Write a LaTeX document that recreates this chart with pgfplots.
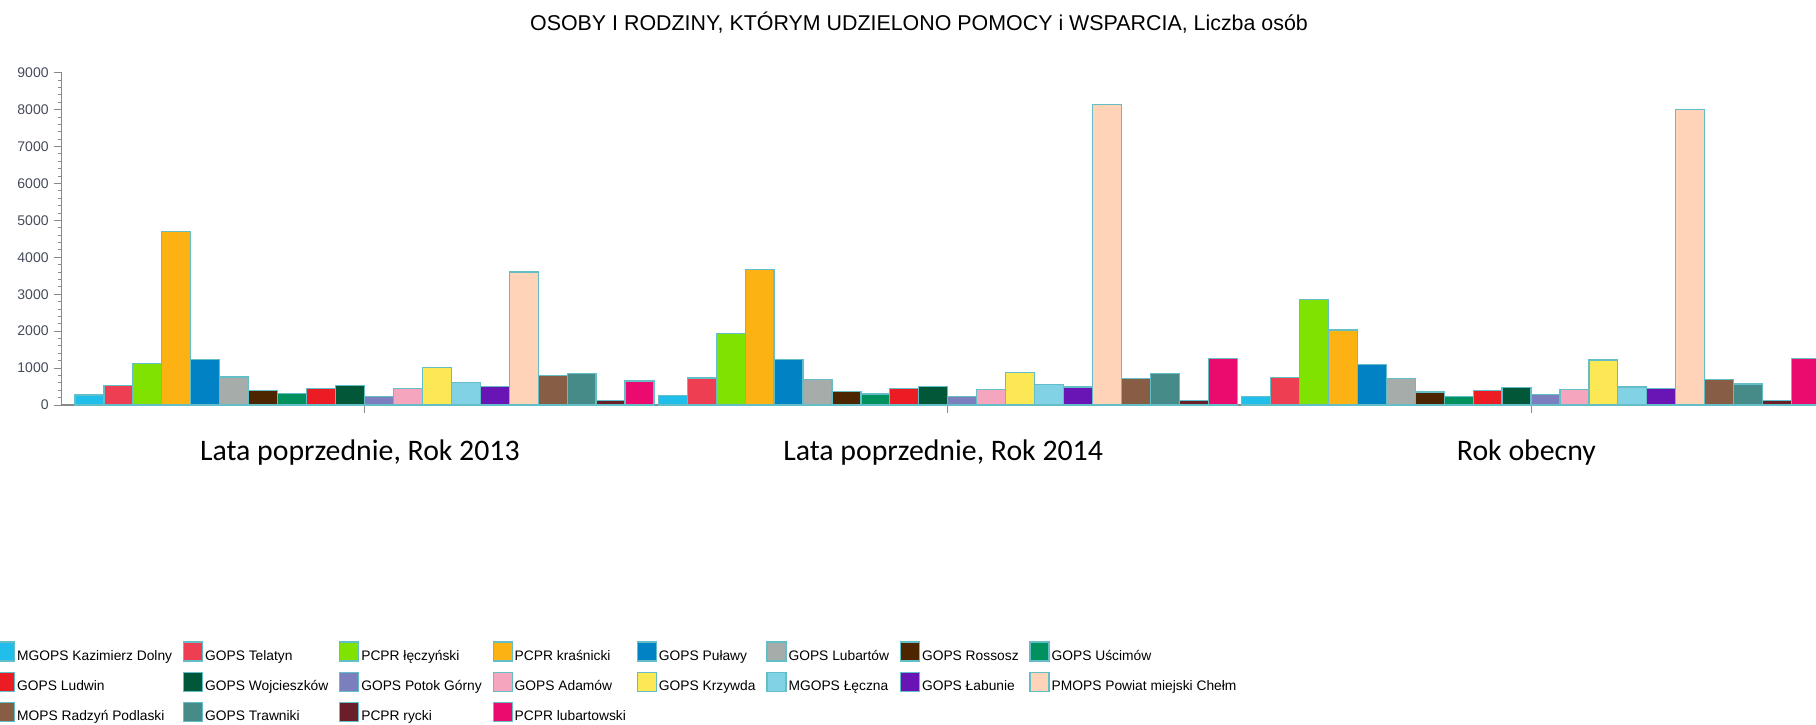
\documentclass[border=0pt]{standalone}
\usepackage{pgfplots}
\pgfplotsset{compat=1.18}
\usepackage{fontspec}
\setmainfont{Liberation Sans}
\newfontfamily\calibri{Carlito}

\definecolor{barEdge}{RGB}{100,190,200}
\definecolor{axisGray}{RGB}{136,136,136}
\definecolor{tickText}{RGB}{70,75,90}
\definecolor{c01}{RGB}{34,190,235}
\definecolor{c02}{RGB}{238,62,82}
\definecolor{c03}{RGB}{128,226,0}
\definecolor{c04}{RGB}{253,178,20}
\definecolor{c05}{RGB}{0,130,196}
\definecolor{c06}{RGB}{165,172,170}
\definecolor{c07}{RGB}{77,38,0}
\definecolor{c08}{RGB}{0,145,95}
\definecolor{c09}{RGB}{236,28,36}
\definecolor{c10}{RGB}{0,88,56}
\definecolor{c11}{RGB}{123,127,190}
\definecolor{c12}{RGB}{245,166,190}
\definecolor{c13}{RGB}{252,232,85}
\definecolor{c14}{RGB}{130,210,230}
\definecolor{c15}{RGB}{105,20,180}
\definecolor{c16}{RGB}{255,211,184}
\definecolor{c17}{RGB}{136,93,70}
\definecolor{c18}{RGB}{70,139,135}
\definecolor{c19}{RGB}{105,30,40}
\definecolor{c20}{RGB}{235,10,110}

\begin{document}
\begin{tikzpicture}
\useasboundingbox (0pt,0pt) rectangle (908pt,362pt);

\node[font=\fontsize{10.7}{12}\selectfont, text=black] at (459.5pt,350.5pt)
  {OSOBY I RODZINY, KTÓRYM UDZIELONO POMOCY i WSPARCIA, Liczba osób};

\begin{axis}[
    at={(31pt,159.5pt)}, anchor=south west,
    scale only axis,
    width=877pt, height=166.15pt,
    xmin=-0.5186, xmax=2.4886,
    ymin=0, ymax=9000,
    ybar=0pt, bar width=14.475pt,
    axis lines*=left,
    axis line style={axisGray, line width=0.5pt},
    x axis line style={line width=1pt},
    tick align=outside,
    major tick length=4pt, minor tick length=2pt,
    tick style={axisGray, line width=0.5pt},
    xtick={0,1,2}, xticklabels={},
    ytick={0,1000,...,9000},
    minor y tick num=4,
    scaled y ticks=false,
    /pgf/number format/assume math mode=true,
    /pgf/number format/1000 sep={},
    yticklabel style={font=\fontsize{7}{8}\selectfont, text=tickText, inner sep=0pt, xshift=-2.5pt},
    every axis plot/.append style={draw=barEdge, line width=0.6pt},
    clip mode=individual,
    legend columns=8,
    legend cell align=left,
    legend style={
        at={(-0.0382,-0.7115)}, anchor=north west,
        draw=none, fill=none, inner sep=0pt, outer sep=0pt,
        font=\fontsize{6.9}{8}\selectfont,
        nodes={inner sep=0pt, text height=5.2pt, text depth=1.6pt},
        row sep=4.25pt,
        /tikz/every odd column/.append style={column sep=1pt},
        /tikz/every even column/.append style={column sep=5.4pt},
    },
    legend image code/.code={\draw[#1] (0pt,-2.25pt) rectangle (9.5pt,7.25pt);},
]

\addplot[fill=c01] coordinates {(0,270) (1,260) (2,230)};
\addlegendentry{MGOPS Kazimierz Dolny}
\addplot[fill=c02] coordinates {(0,530) (1,730) (2,750)};
\addlegendentry{GOPS Telatyn}
\addplot[fill=c03] coordinates {(0,1120) (1,1940) (2,2860)};
\addlegendentry{PCPR łęczyński}
\addplot[fill=c04] coordinates {(0,4690) (1,3680) (2,2030)};
\addlegendentry{PCPR kraśnicki}
\addplot[fill=c05] coordinates {(0,1230) (1,1230) (2,1100)};
\addlegendentry{GOPS Puławy}
\addplot[fill=c06] coordinates {(0,760) (1,700) (2,720)};
\addlegendentry{GOPS Lubartów}
\addplot[fill=c07] coordinates {(0,400) (1,370) (2,350)};
\addlegendentry{GOPS Rossosz}
\addplot[fill=c08] coordinates {(0,320) (1,300) (2,230)};
\addlegendentry{GOPS Uścimów}
\addplot[fill=c09] coordinates {(0,450) (1,450) (2,400)};
\addlegendentry{GOPS Ludwin}
\addplot[fill=c10] coordinates {(0,520) (1,510) (2,480)};
\addlegendentry{GOPS Wojcieszków}
\addplot[fill=c11] coordinates {(0,230) (1,230) (2,280)};
\addlegendentry{GOPS Potok Górny}
\addplot[fill=c12] coordinates {(0,450) (1,420) (2,430)};
\addlegendentry{GOPS Adamów}
\addplot[fill=c13] coordinates {(0,1010) (1,870) (2,1220)};
\addlegendentry{GOPS Krzywda}
\addplot[fill=c14] coordinates {(0,600) (1,560) (2,490)};
\addlegendentry{MGOPS Łęczna}
\addplot[fill=c15] coordinates {(0,500) (1,490) (2,440)};
\addlegendentry{GOPS Łabunie}
\addplot[fill=c16] coordinates {(0,3600) (1,8140) (2,8010)};
\addlegendentry{PMOPS Powiat miejski Chełm}
\addplot[fill=c17] coordinates {(0,790) (1,720) (2,690)};
\addlegendentry{MOPS Radzyń Podlaski}
\addplot[fill=c18] coordinates {(0,850) (1,860) (2,570)};
\addlegendentry{GOPS Trawniki}
\addplot[fill=c19] coordinates {(0,120) (1,120) (2,130)};
\addlegendentry{PCPR rycki}
\addplot[fill=c20] coordinates {(0,650) (1,1250) (2,1270)};
\addlegendentry{PCPR lubartowski}

\node[anchor=base, font=\calibri\fontsize{14.9}{17}\selectfont] at ([xshift=-2.3pt,yshift=-27.5pt]axis cs:0,0) {Lata poprzednie, Rok 2013};
\node[anchor=base, font=\calibri\fontsize{14.9}{17}\selectfont] at ([xshift=-2.3pt,yshift=-27.5pt]axis cs:1,0) {Lata poprzednie, Rok 2014};
\node[anchor=base, font=\calibri\fontsize{14.9}{17}\selectfont] at ([xshift=-2.3pt,yshift=-27.5pt]axis cs:2,0) {Rok obecny};

\end{axis}
\end{tikzpicture}
\end{document}
